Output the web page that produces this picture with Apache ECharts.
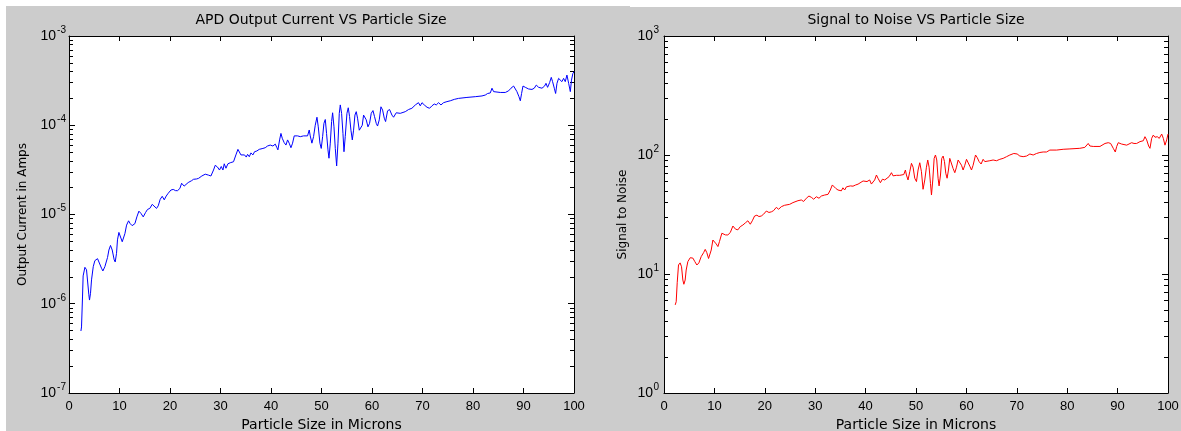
<!DOCTYPE html>
<html>
<head>
<meta charset="utf-8">
<script src="https://cdn.jsdelivr.net/npm/echarts@6/dist/echarts.min.js"></script>
<style>
    html, body { margin: 0; padding: 0; background: #fff; }
    #chart { width: 1181px; height: 431px; }
</style>
</head>
<body>
<div id="chart"></div>
<script>
// left panel: APD output current (A) against particle size (um)
const apdSize = [
    2.36, 2.48, 2.68, 2.80, 3.15, 3.47, 3.93, 4.06, 4.26, 4.46, 4.80, 5.12, 5.65, 5.98, 6.44, 6.71,
    7.10, 7.63, 7.90, 8.22, 8.56, 8.95, 9.15, 9.41, 9.60, 9.88, 10.2, 10.54, 10.73, 11.07, 11.4, 11.8,
    12.12, 12.5, 13.05, 13.44, 13.84, 14.24, 14.7, 15.15, 15.55, 16.0, 16.48, 16.87, 17.33, 17.67, 18.06, 18.46,
    18.86, 19.25, 19.65, 20.18, 20.64, 21.1, 21.5, 21.96, 22.3, 22.8, 23.07, 23.6, 24.26, 24.66, 25.25, 25.65,
    26.3, 26.98, 27.63, 28.1, 28.62, 28.96, 29.4, 29.8, 30.15, 30.48, 30.74, 31.08, 31.47, 31.93, 32.58, 33.05,
    33.45, 33.77, 34.05, 34.44, 34.76, 35.1, 35.36, 35.7, 36.03, 36.42, 36.74, 37.2, 37.67, 38.0, 38.4, 38.86,
    39.3, 39.85, 40.38, 40.84, 41.17, 41.37, 41.7, 41.97, 42.23, 42.6, 42.96, 43.28, 43.6, 43.95, 44.27, 44.6,
    44.94, 45.26, 45.8, 46.45, 47.24, 47.57, 47.77, 48.1, 48.43, 48.76, 49.1, 49.36, 49.69, 49.95, 50.22, 50.48,
    50.75, 51.0, 51.28, 51.48, 51.74, 52.0, 52.2, 52.47, 52.73, 53.0, 53.26, 53.52, 53.72, 53.98, 54.25, 54.45,
    54.7, 55.04, 55.3, 55.56, 55.83, 56.1, 56.35, 56.62, 56.88, 57.14, 57.48, 57.73, 58.07, 58.33, 58.6, 58.86,
    59.2, 59.52, 59.85, 60.19, 60.5, 60.84, 61.1, 61.44, 61.77, 62.1, 62.43, 62.69, 63.08, 63.48, 63.95, 64.27,
    64.8, 65.6, 66.59, 67.24, 67.9, 68.59, 68.9, 69.2, 69.56, 69.9, 70.35, 70.9, 71.4, 71.87, 72.33, 72.73,
    73.18, 73.66, 74.17, 74.84, 75.5, 75.84, 76.3, 77.14, 78.8, 80.45, 81.78, 82.43, 82.9, 83.42, 83.76, 84.08,
    84.4, 85.4, 86.4, 87.05, 87.52, 88.04, 88.38, 88.7, 89.1, 89.37, 89.62, 89.9, 90.36, 91.0, 91.68, 92.13,
    92.53, 93.0, 93.66, 94.18, 94.45, 94.77, 95.17, 95.5, 95.76, 96.1, 96.36, 96.63, 96.95, 97.3, 97.6, 97.94,
    98.27, 98.6, 98.94, 99.27, 99.5, 99.78, 100
];
const apdCurrent = [
    4.95e-7, 5.5e-7, 1.22e-6, 2.05e-6, 2.56e-6, 2.4e-6, 1.26e-6, 1.1e-6, 1.31e-6, 1.85e-6, 2.6e-6, 3.04e-6, 3.2e-6, 3.1e-6, 2.5e-6, 2.33e-6,
    2.6e-6, 3.3e-6, 4.0e-6, 4.5e-6, 4.0e-6, 3.1e-6, 2.94e-6, 3.67e-6, 5.2e-6, 6.3e-6, 6.1e-6, 4.95e-6, 4.8e-6, 6.1e-6, 7.6e-6, 8.5e-6,
    7.9e-6, 7.5e-6, 7.9e-6, 9.4e-6, 1.09e-5, 1.03e-5, 9.4e-6, 1.05e-5, 1.14e-5, 1.17e-5, 1.3e-5, 1.34e-5, 1.17e-5, 1.25e-5, 1.48e-5, 1.6e-5,
    1.46e-5, 1.61e-5, 1.73e-5, 1.88e-5, 1.91e-5, 1.85e-5, 1.85e-5, 1.96e-5, 2.24e-5, 2.08e-5, 2.08e-5, 2.28e-5, 2.39e-5, 2.48e-5, 2.5e-5, 2.54e-5,
    2.7e-5, 2.83e-5, 2.76e-5, 2.7e-5, 3.15e-5, 3.56e-5, 3.4e-5, 3.15e-5, 3.45e-5, 3.15e-5, 3.7e-5, 3.3e-5, 3.7e-5, 3.8e-5, 3.9e-5, 4.65e-5,
    5.37e-5, 5.3e-5, 4.65e-5, 4.44e-5, 4.65e-5, 4.4e-5, 4.72e-5, 4.44e-5, 4.9e-5, 4.65e-5, 5.05e-5, 5.15e-5, 5.37e-5, 5.15e-5, 5.5e-5, 5.6e-5,
    5.85e-5, 6.0e-5, 5.85e-5, 6.15e-5, 5.6e-5, 5.3e-5, 6.85e-5, 8.1e-5, 7.15e-5, 6.4e-5, 6.0e-5, 6.85e-5, 6.3e-5, 5.6e-5, 6.3e-5, 7.6e-5,
    7.3e-5, 7.6e-5, 7.45e-5, 7.6e-5, 7.6e-5, 8.85e-5, 7.6e-5, 6.3e-5, 7.45e-5, 1.0e-4, 1.23e-4, 9.6e-5, 6.3e-5, 5.5e-5, 7.45e-5, 1.05e-4,
    1.16e-4, 8.1e-5, 5.3e-5, 4.27e-5, 6.3e-5, 1.1e-4, 1.38e-4, 9.6e-5, 5.5e-5, 3.5e-5, 6.3e-5, 1.36e-4, 1.69e-4, 1.36e-4, 8.1e-5, 5.05e-5,
    7.45e-5, 1.36e-4, 1.57e-4, 1.25e-4, 8.8e-5, 6.85e-5, 8.8e-5, 1.3e-4, 1.42e-4, 1.2e-4, 8.8e-5, 8.4e-5, 1.0e-4, 1.3e-4, 1.36e-4, 1.15e-4,
    9.6e-5, 1.05e-4, 1.36e-4, 1.46e-4, 1.25e-4, 1.05e-4, 9.8e-5, 1.15e-4, 1.61e-4, 1.48e-4, 1.2e-4, 1.1e-4, 1.45e-4, 1.5e-4, 1.3e-4, 1.23e-4,
    1.38e-4, 1.36e-4, 1.42e-4, 1.5e-4, 1.55e-4, 1.69e-4, 1.61e-4, 1.79e-4, 1.65e-4, 1.79e-4, 1.69e-4, 1.59e-4, 1.55e-4, 1.65e-4, 1.73e-4, 1.69e-4,
    1.79e-4, 1.69e-4, 1.79e-4, 1.84e-4, 1.88e-4, 1.84e-4, 1.95e-4, 2.0e-4, 2.05e-4, 2.09e-4, 2.13e-4, 2.18e-4, 2.27e-4, 2.3e-4, 2.6e-4, 2.38e-4,
    2.33e-4, 2.33e-4, 2.33e-4, 2.43e-4, 2.6e-4, 2.75e-4, 2.7e-4, 2.38e-4, 2.09e-4, 1.88e-4, 2.27e-4, 2.75e-4, 2.66e-4, 2.55e-4, 2.52e-4, 2.6e-4,
    2.82e-4, 2.66e-4, 2.6e-4, 2.75e-4, 2.95e-4, 2.66e-4, 3.0e-4, 3.44e-4, 3.08e-4, 2.6e-4, 2.27e-4, 2.95e-4, 3.35e-4, 3.2e-4, 3.08e-4, 3.35e-4,
    3.08e-4, 3.65e-4, 2.95e-4, 2.38e-4, 3.2e-4, 3.8e-4, 3.98e-4
];

// right panel: signal to noise against particle size (um)
const snrSize = [
    2.22, 2.42, 2.62, 2.88, 3.2, 3.48, 3.74, 3.94, 4.2, 4.4, 4.73, 5.2, 5.73, 6.12, 6.52, 6.92,
    7.38, 7.85, 8.18, 8.5, 8.84, 9.1, 9.37, 9.7, 10.03, 10.36, 10.7, 11.0, 11.48, 11.82, 12.2, 12.67,
    13.15, 13.67, 14.2, 14.66, 15.13, 15.65, 16.19, 16.64, 17.12, 17.52, 17.97, 18.43, 18.83, 19.3, 19.76, 20.3,
    20.82, 21.3, 21.75, 22.28, 22.74, 23.28, 23.93, 24.93, 25.58, 26.58, 27.25, 27.7, 28.24, 28.76, 29.23, 29.7,
    30.23, 30.75, 31.22, 31.88, 32.54, 33.0, 33.4, 33.66, 34.06, 34.52, 34.86, 35.19, 35.5, 35.85, 36.19, 36.5,
    36.98, 37.5, 38.03, 38.5, 38.83, 39.5, 40.28, 40.8, 41.15, 41.47, 41.8, 42.15, 42.46, 42.94, 43.34, 43.8,
    44.13, 44.66, 45.13, 45.44, 46.11, 46.77, 47.57, 47.9, 48.1, 48.42, 48.76, 49.1, 49.42, 49.75, 50.09, 50.41,
    50.75, 51.08, 51.4, 51.74, 52.07, 52.33, 52.6, 52.87, 53.07, 53.33, 53.6, 53.86, 54.12, 54.38, 54.58, 54.86,
    55.11, 55.38, 55.65, 55.91, 56.17, 56.44, 56.7, 57.04, 57.36, 57.7, 58.03, 58.36, 58.69, 59.03, 59.35, 59.68,
    60.02, 60.34, 60.68, 61.01, 61.33, 61.81, 62.13, 62.52, 62.92, 63.32, 63.65, 63.99, 64.65, 65.3, 65.98, 66.63,
    67.29, 67.96, 68.62, 69.0, 69.41, 69.75, 70.07, 70.6, 71.26, 71.94, 72.6, 73.25, 73.92, 74.58, 75.23, 75.9,
    76.56, 77.9, 79.2, 80.54, 82.5, 83.5, 84.17, 84.5, 85.17, 86.5, 87.5, 88.14, 88.62, 89.14, 89.54, 89.82,
    90.13, 90.8, 91.8, 92.79, 93.25, 93.78, 94.44, 94.78, 95.1, 95.43, 95.77, 96.16, 96.42, 96.76, 97.08, 97.42,
    97.87, 98.27, 98.75, 99.07, 99.4, 99.74, 100
];
const snrValue = [
    5.5, 5.85, 8.45, 11.9, 12.4, 11.5, 8.9, 8.2, 8.9, 10.8, 12.7, 13.7, 13.6, 12.7, 11.9, 12.4,
    14.0, 15.1, 16.1, 15.1, 13.5, 13.3, 15.9, 19.3, 19.9, 17.9, 17.0, 18.7, 22.0, 22.3, 21.3, 21.3,
    22.3, 25.3, 23.8, 23.5, 25.0, 25.8, 27.0, 28.0, 26.2, 28.0, 30.7, 31.2, 30.4, 30.7, 31.8, 33.8,
    32.9, 33.3, 34.1, 36.3, 35.0, 36.8, 37.8, 38.5, 39.8, 41.3, 41.9, 40.7, 43.3, 45.2, 44.1, 42.5,
    44.6, 43.3, 45.2, 46.1, 46.7, 50.8, 56.0, 57.0, 52.5, 50.8, 52.5, 50.0, 53.0, 50.8, 54.0, 52.5,
    55.0, 54.7, 56.0, 56.9, 58.5, 60.5, 59.8, 61.7, 57.0, 56.0, 61.7, 67.9, 63.8, 58.5, 62.6, 61.7,
    59.8, 65.8, 71.0, 66.8, 67.5, 67.5, 68.5, 74.8, 67.9, 61.7, 72.4, 85.1, 79.0, 63.8, 59.8, 74.8,
    86.1, 72.4, 51.5, 61.7, 79.0, 90.8, 79.0, 57.8, 46.1, 61.7, 93.7, 100, 90.8, 63.8, 55.0, 67.9,
    93.7, 98.0, 88.0, 70.2, 63.8, 74.8, 93.7, 92.0, 77.0, 71.0, 79.0, 90.8, 92.0, 82.0, 74.8, 82.0,
    92.0, 90.8, 80.5, 74.8, 82.0, 100, 95.5, 88.0, 84.0, 92.0, 88.0, 90.8, 89.5, 90.8, 89.5, 92.0,
    93.7, 96.8, 100, 102, 103, 100, 102, 98.0, 96.8, 98.0, 102, 100, 103, 105, 106, 106,
    110, 110, 111.7, 112.5, 113.8, 115.9, 125, 119, 118, 118, 125, 126.9, 125, 113.8, 106, 118,
    126.9, 123.6, 121, 126.9, 125, 125, 129.5, 126.9, 131.8, 142.5, 134, 119, 113.8, 138, 147, 141,
    142.5, 138, 150, 138, 121, 134, 150
];

const xTickMin = 0;
const xTickMax = 100;
const xTickStep = 10;
const apdDecades = [1e-7, 1e-6, 1e-5, 1e-4, 1e-3];
const snrDecades = [1, 10, 100, 1000];

const TICK_FONT = "'Liberation Sans', Arial, Helvetica, sans-serif";
const TEXT_FONT = "'DejaVu Sans', Verdana, sans-serif";

function minorTicks(decades) {
    const out = [];
    for (let i = 0; i < decades.length - 1; i++) {
        for (let m = 2; m <= 9; m++) out.push(m * decades[i]);
    }
    return out;
}

function pairs(xs, ys) {
    return xs.map((x, i) => [x, ys[i]]);
}

function exponentOf(value) {
    return String(Math.round(Math.log10(value)));
}

function makeXAxes(gridIndex) {
    const base = {
        type: 'value',
        gridIndex: gridIndex,
        min: xTickMin,
        max: xTickMax,
        interval: xTickStep,
        axisLine: { show: true, onZero: false, lineStyle: { color: '#000', width: 1 } },
        axisTick: { show: true, inside: true, length: 5, lineStyle: { color: '#000' } },
        splitLine: { show: false }
    };
    return [
        Object.assign({}, base, {
            position: 'bottom',
            name: 'Particle Size in Microns',
            nameLocation: 'middle',
            nameGap: 22,
            nameTextStyle: { color: '#000', fontSize: 14, fontFamily: TEXT_FONT },
            axisLabel: { color: '#000', fontSize: 13, fontFamily: TICK_FONT, margin: 7 }
        }),
        Object.assign({}, base, { position: 'top', axisLabel: { show: false } })
    ];
}

// "10" comes from the major axis, the exponent from the minor-tick axis
function makeYAxes(gridIndex, decades, name, nameGap, expMargin, baseMargin) {
    const lo = decades[0];
    const hi = decades[decades.length - 1];
    const minor = minorTicks(decades);
    const base = {
        type: 'log',
        logBase: 10,
        gridIndex: gridIndex,
        min: lo,
        max: hi,
        splitLine: { show: false },
        minorTick: { show: false }
    };
    const major = (position, withLabel) => Object.assign({}, base, {
        position: position,
        axisLine: { show: true, lineStyle: { color: '#000', width: 1 } },
        axisTick: { show: true, inside: true, length: 6, customValues: decades, lineStyle: { color: '#000' } },
        axisLabel: withLabel ? {
            show: true,
            customValues: decades,
            margin: baseMargin,
            formatter: () => '10',
            color: '#000',
            fontSize: 14,
            fontFamily: TICK_FONT
        } : { show: false }
    });
    const small = (position, withLabel) => Object.assign({}, base, {
        position: position,
        axisLine: { show: false },
        axisTick: { show: true, inside: true, length: 4, customValues: minor, lineStyle: { color: '#000' } },
        axisLabel: withLabel ? {
            show: true,
            customValues: decades,
            margin: expMargin,
            formatter: exponentOf,
            color: '#000',
            fontSize: 10,
            fontFamily: TICK_FONT,
            verticalAlign: 'bottom',
            lineHeight: 12
        } : { show: false }
    });
    const left = major('left', true);
    left.name = name;
    left.nameLocation = 'middle';
    left.nameGap = nameGap;
    left.nameTextStyle = { color: '#000', fontSize: 12, fontFamily: TEXT_FONT };
    return [left, small('left', true), major('right', false), small('right', false)];
}

function titleText(text, x) {
    return {
        type: 'text',
        x: x,
        y: 20,
        style: {
            text: text,
            textAlign: 'center',
            textVerticalAlign: 'middle',
            fontSize: 14,
            fontFamily: TEXT_FONT,
            fill: '#000'
        }
    };
}

const chart = echarts.init(document.getElementById('chart'));

chart.setOption({
    animation: false,
    backgroundColor: '#cccccc',
    grid: [
        { left: 69, top: 36, width: 505, height: 357, outerBoundsMode: 'none', show: true, backgroundColor: '#fff', borderWidth: 0 },
        { left: 664, top: 36, width: 504, height: 357, outerBoundsMode: 'none', show: true, backgroundColor: '#fff', borderWidth: 0 }
    ],
    xAxis: makeXAxes(0).concat(makeXAxes(1)),
    yAxis: makeYAxes(0, apdDecades, 'Output Current in Amps', 40, 3, 13)
        .concat(makeYAxes(1, snrDecades, 'Signal to Noise', 35, 5, 11)),
    graphic: [
        { type: 'rect', shape: { x: 0, y: 0, width: 630, height: 6 }, style: { fill: '#fff' } },
        { type: 'rect', shape: { x: 630, y: 0, width: 551, height: 7 }, style: { fill: '#fff' } },
        { type: 'rect', shape: { x: 0, y: 0, width: 6, height: 431 }, style: { fill: '#fff' } },
        titleText('APD Output Current VS Particle Size', 321),
        titleText('Signal to Noise VS Particle Size', 916)
    ],
    series: [
        {
            type: 'line',
            xAxisIndex: 0,
            yAxisIndex: 0,
            showSymbol: false,
            data: pairs(apdSize, apdCurrent),
            lineStyle: { color: '#0000ff', width: 1 }
        },
        {
            type: 'line',
            xAxisIndex: 2,
            yAxisIndex: 4,
            showSymbol: false,
            data: pairs(snrSize, snrValue),
            lineStyle: { color: '#ff0000', width: 1 }
        }
    ]
});
</script>
</body>
</html>
